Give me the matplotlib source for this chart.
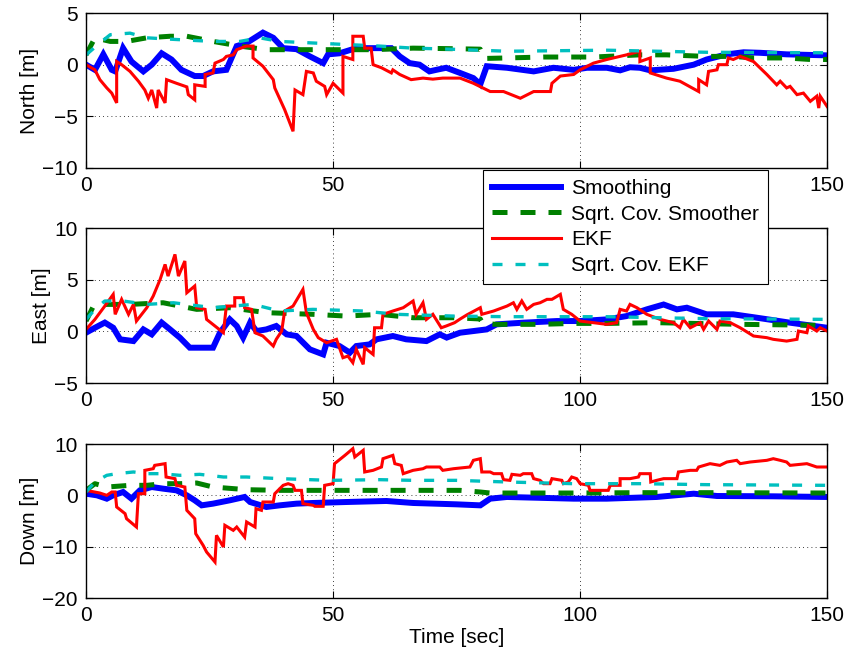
import numpy as np
import matplotlib
matplotlib.use("Agg")
import matplotlib.pyplot as plt

plt.rcParams.update({
    "font.family": ["Liberation Sans", "DejaVu Sans"],
    "font.size": 15,
    "axes.linewidth": 1.0,
    "xtick.direction": "in", "ytick.direction": "in",
    "xtick.top": True, "ytick.right": True,
})

labels = ["Smoothing", "Sqrt. Cov. Smoother", "EKF", "Sqrt. Cov. EKF"]
ylabels = ["North [m]", "East [m]", "Down [m]"]
ylims = [(-10, 5), (-5, 10), (-20, 10)]
yticks = [[-10, -5, 0, 5], [-5, 0, 5, 10], [-20, -10, 0, 10]]
xticks = [0, 50, 100, 150]

# (time [s], error [m])
north_smooth = [(0, 0), (1.8, -0.5), (3.5, 1.0), (5.2, -0.5), (5.9, -0.65), (7.5, 1.6), (9.2, 0.3),
    (11.6, -0.65), (13.3, 0), (15.3, 1.1), (17.3, 0.5), (19.3, -0.5), (22.0, -1.1), (23.7, -1.1),
    (25.7, -0.65), (28.4, -0.5), (30.5, 1.8), (32.5, 2.1), (35.8, 3.1), (37.9, 2.6), (39.9, 1.6),
    (42.6, 1.5), (45.3, 0.8), (48.0, 0.15), (49.0, 1.0), (51.3, 1.1), (54.0, 1.5), (56.7, 1.6),
    (61.8, 1.6), (63.5, 0.8), (65.5, 0.15), (67.5, 0), (69.5, -0.65), (70.9, -0.5), (72.9, -0.3),
    (75.7, -0.8), (78.4, -1.3), (79.8, -1.9), (81.1, -0.15), (85.2, -0.3), (90.6, -0.65),
    (94.6, -0.3), (98.7, -0.5), (101.4, -0.3), (105.4, -0.3), (108.1, -0.55), (110.1, -0.25),
    (112.1, -0.3), (114.2, -0.55), (118.9, -0.4), (123.0, 0), (125.6, 0.5), (129.7, 1.0),
    (133.1, 1.2), (136.4, 1.15), (141.8, 1.0), (150.0, 0.9)]
north_sqrt_smooth = [(0, 0.95), (1.8, 2.6), (4.9, 2.25), (8.2, 2.25), (12.3, 2.6), (17.0, 2.75),
    (20.4, 2.75), (25.7, 2.25), (31.1, 1.8), (36.5, 1.45), (41.9, 1.45), (50.0, 1.45), (58.1, 1.45),
    (66.2, 1.6), (73.7, 1.55), (79.8, 1.5), (80.5, 0.6), (85.2, 0.65), (92.6, 0.74), (102.7, 0.74),
    (112.1, 0.95), (117.5, 0.95), (125.6, 0.8), (131.0, 0.8), (135.1, 0.65), (141.8, 0.65),
    (146.6, 0.5), (150.0, 0.5)]
north_ekf = [(0, 0), (1.8, -0.5), (2.8, -1.45), (4.2, -2.25), (5.2, -2.75), (6.2, -3.7), (6.2, 0.3),
    (7.2, 0), (8.9, -0.65), (10.6, -1.6), (11.9, -2.45), (12.6, -3.25), (13.3, -2.45), (14.3, -4.2),
    (14.6, -2.45), (16.0, -3.7), (16.3, -1.45), (18.3, -1.8), (20.4, -2.15), (20.7, -2.9),
    (22.0, -3.4), (22.0, -1.95), (24.1, -2.1), (24.1, -0.95), (25.7, -0.8), (26.1, 0.15),
    (27.8, 0.5), (28.4, 0.8), (29.8, 0.95), (30.5, 1.45), (32.5, 1.8), (33.8, 1.8), (33.8, 0.65),
    (35.8, -0.15), (37.9, -1.45), (38.2, -2.25), (40.2, -4.35), (41.9, -6.45), (42.3, -2.45),
    (43.9, -2.9), (44.6, -0.65), (46.0, -0.8), (46.6, -1.6), (48.3, -2.1), (48.7, -2.9),
    (50.0, -1.8), (52.0, -2.75), (52.0, 0.8), (54.0, 0.5), (54.0, 2.75), (56.1, 2.75), (56.4, 1.6),
    (57.7, 1.6), (58.1, 0), (59.8, -0.3), (61.8, -0.8), (62.1, -0.5), (63.5, -0.95), (65.8, -1.45),
    (68.2, -1.3), (70.2, -1.4), (72.2, -1.3), (75.7, -1.3), (78.4, -1.8), (81.8, -2.6),
    (84.5, -2.6), (87.9, -3.25), (90.6, -2.6), (94.0, -2.6), (94.3, -1.8), (96.0, -1.1),
    (98.7, -0.95), (100.0, -0.5), (102.7, 0.15), (105.4, 0.5), (109.4, 0.95), (112.1, 1.3),
    (112.1, 0.3), (114.2, 0.65), (114.2, -0.8), (117.5, -1.3), (120.2, -1.6), (124.0, -2.6),
    (124.0, -1.45), (125.6, -1.95), (126.0, -0.65), (127.7, -0.5), (128.0, 0), (129.7, 0),
    (130.0, 0.65), (131.0, 0.5), (132.4, 0.8), (135.1, 0.3), (137.8, -0.95), (139.8, -1.95),
    (140.5, -1.6), (141.8, -2.25), (142.5, -2.1), (143.9, -2.9), (145.2, -2.75), (146.6, -3.55),
    (147.9, -3.05), (148.3, -4.2), (148.6, -3.05), (150.0, -4.05)]
north_sqrt_ekf = [(0, 0.95), (2.8, 2.1), (4.9, 2.9), (8.9, 3.05), (12.3, 2.6), (17.7, 2.45),
    (25.7, 2.25), (31.1, 2.25), (35.1, 2.6), (39.2, 2.25), (45.9, 2.1), (52.7, 1.95), (59.4, 1.8),
    (66.2, 1.6), (73.7, 1.5), (85.2, 1.3), (105.4, 1.4), (125.6, 1.2), (150.0, 1.15)]

east_smooth = [(0, -0.13), (1.8, 0.35), (3.8, 0.85), (5.5, 0.35), (6.9, -0.77), (9.6, -0.94),
    (11.6, 0.19), (13.3, -0.29), (15.3, 0.85), (17.0, 0.19), (19.0, -0.61), (21.0, -1.58),
    (25.7, -1.58), (27.1, -0.13), (29.1, 1.16), (30.5, 0.52), (31.8, -0.61), (33.2, 0.84),
    (34.5, 0.03), (36.5, 0.19), (38.5, 0.52), (40.6, -0.29), (42.6, -0.45), (45.3, -1.74),
    (48.0, -2.23), (48.7, -1.10), (51.3, -1.42), (53.4, -2.06), (54.7, -1.42), (57.4, -1.26),
    (58.8, -0.77), (62.1, -0.45), (64.8, -0.77), (68.9, -0.94), (71.6, -0.29), (73.0, -0.6),
    (75.7, -0.13), (78.4, 0.03), (81.1, 0.19), (83.1, 0.68), (88.5, 0.84), (95.3, 1.0),
    (100.0, 1.0), (105.4, 1.16), (109.4, 1.48), (113.5, 2.13), (116.9, 2.6), (119.6, 2.13),
    (121.6, 2.29), (125.6, 1.65), (131.0, 1.65), (135.8, 1.32), (142.5, 0.84), (150.0, 0.35)]
east_sqrt_smooth = [(0, 1.0), (1.5, 2.45), (4.2, 2.61), (8.9, 2.61), (15.6, 2.77), (22.4, 2.13),
    (29.1, 2.29), (36.5, 1.81), (45.9, 1.65), (52.7, 1.48), (59.4, 1.65), (66.2, 1.32),
    (74.4, 1.32), (79.8, 1.2), (80.3, 0.75), (83.1, 0.68), (91.9, 0.68), (98.7, 0.77),
    (105.4, 0.77), (115.5, 0.84), (132.4, 0.68), (150.0, 0.58)]
east_ekf = [(0, 0.19), (1.8, 1.16), (3.8, 2.45), (5.5, 3.58), (5.9, 1.65), (7.2, 3.10), (8.6, 1.65),
    (9.6, 2.61), (10.2, 1.0), (12.3, 2.29), (13.6, 3.42), (15.0, 5.03), (16.0, 6.48), (16.6, 5.35),
    (18.0, 7.45), (18.7, 5.35), (20.0, 6.81), (20.4, 3.74), (22.0, 4.39), (22.4, 2.29),
    (24.1, 2.13), (24.4, 1.16), (27.8, -0.13), (28.4, 2.45), (30.1, 2.45), (30.1, 3.26),
    (31.8, 3.26), (32.1, 2.29), (33.5, 2.13), (34.2, -0.13), (35.8, -0.45), (37.9, -1.42),
    (38.5, -0.77), (39.6, 0.03), (40.2, 1.97), (41.9, 2.45), (43.9, 4.06), (44.6, 1.81),
    (46.0, 0.19), (47.0, -0.61), (48.7, -1.10), (50.7, -0.77), (52.0, -2.55), (53.0, -2.39),
    (54.0, -3.03), (54.7, -1.74), (56.1, -3.19), (56.4, -1.58), (58.1, -2.23), (58.4, 0.35),
    (59.8, 0.35), (60.1, 1.65), (62.1, 1.97), (64.2, 2.29), (66.2, 2.94), (66.8, 1.65),
    (68.2, 2.77), (68.9, 1.16), (70.2, 1.65), (71.9, 0.35), (72.9, 0.52), (74.6, 0.84),
    (75.6, 1.16), (77.1, 1.6), (79.8, 2.29), (80.1, 1.65), (82.5, 1.97), (85.2, 2.45),
    (86.5, 2.77), (87.2, 2.13), (88.2, 2.94), (89.2, 2.13), (90.6, 2.61), (91.9, 2.77),
    (93.3, 3.10), (94.3, 3.10), (96.0, 3.58), (96.6, 2.13), (98.3, 1.65), (100.0, 1.0),
    (102.7, 0.84), (105.4, 0.68), (107.4, 0.84), (108.1, 2.13), (109.4, 1.97), (110.1, 2.61),
    (111.5, 2.29), (113.5, 1.65), (116.2, 1.16), (118.9, 0.84), (120.2, 0.35), (120.9, 1.16),
    (122.3, 0.35), (124.3, 0.84), (125.0, 0.19), (126.0, 1.0), (127.7, 0.19), (128.3, 1.0),
    (130.4, 0.84), (132.4, 0.35), (135.1, -0.45), (137.8, -0.61), (139.1, -0.77), (141.8, -0.94),
    (143.9, -0.77), (144.2, 0.03), (145.9, -0.13), (146.2, 0.52), (147.9, 0.03), (148.6, 0.35),
    (150.0, 0.03)]
east_sqrt_ekf = [(0, 1.16), (1.8, 2.13), (3.8, 2.94), (7.5, 2.94), (12.3, 2.61), (17.7, 2.77),
    (25.7, 2.29), (33.8, 2.61), (39.2, 1.97), (45.9, 2.13), (56.1, 1.97), (62.8, 1.65),
    (74.4, 1.48), (85.2, 1.42), (105.4, 1.42), (125.6, 1.23), (150.0, 1.16)]

down_smooth = [(0, 0.32), (2.2, 0), (4.2, -0.65), (5.5, 0), (7.5, 0.65), (9.2, -0.65), (10.9, 0.97),
    (13.3, 1.62), (15.6, 1.30), (18.3, 0.97), (20.4, 0), (22.0, -0.97), (23.4, -1.95), (25.7, -1.62),
    (29.1, -0.97), (32.1, -0.32), (33.2, -1.30), (36.5, -2.27), (39.2, -1.95), (42.6, -1.62),
    (45.9, -1.49), (52.7, -1.30), (60.8, -1.10), (66.2, -1.49), (74.9, -1.75), (79.8, -1.95),
    (81.8, -0.65), (85.2, -0.32), (98.7, -0.65), (105.4, -0.65), (115.5, -0.32), (123.0, 0.32),
    (127.7, -0.13), (139.1, -0.19), (150.0, -0.32)]
down_sqrt_smooth = [(0, 0.97), (1.8, 2.27), (4.2, 1.62), (8.9, 1.95), (12.3, 1.95), (15.6, 2.27),
    (19.0, 2.27), (22.4, 2.40), (25.7, 1.62), (32.5, 1.10), (39.2, 0.97), (50.0, 0.97),
    (75.7, 0.97), (79.8, 0.65), (81.8, 0.45), (98.7, 0.45), (112.1, 0.52), (125.6, 0.52),
    (150.0, 0.45)]
down_ekf = [(0, 0.97), (2.8, 0.45), (4.2, 0), (5.2, 0.65), (5.9, 0.65), (6.2, -2.27), (7.9, -3.57),
    (8.2, -4.55), (10.2, -6.17), (10.6, 0.32), (11.9, 0.32), (11.9, 4.87), (13.6, 5.19),
    (13.9, 5.84), (16.0, 6.17), (16.2, 3.57), (18.0, 3.25), (18.3, 1.95), (20.0, 1.62),
    (20.4, -2.92), (22.0, -4.55), (22.2, -7.47), (23.7, -9.74), (24.4, -11.04), (26.1, -12.99),
    (26.4, -7.79), (27.8, -10.06), (28.1, -5.84), (29.8, -6.82), (30.5, -6.17), (32.1, -8.12),
    (32.5, -5.19), (34.2, -6.17), (34.4, -2.60), (35.5, -2.92), (35.8, -1.30), (37.9, -1.30),
    (38.2, 0.32), (39.9, 1.95), (40.9, 2.27), (41.9, 1.95), (42.3, 0.97), (43.6, 0.97),
    (43.9, -1.62), (46.0, -1.95), (46.3, -2.14), (48.0, -2.14), (48.3, 1.95), (50.0, 2.27),
    (50.3, 6.17), (52.4, 7.79), (54.0, 9.09), (54.4, 7.47), (56.1, 8.77), (56.4, 4.55),
    (58.1, 4.87), (59.8, 5.52), (60.1, 7.14), (62.1, 7.79), (62.5, 6.17), (63.8, 5.84),
    (64.2, 4.22), (66.2, 4.87), (68.2, 5.19), (68.9, 5.52), (71.6, 5.52), (72.2, 4.87),
    (74.4, 5.19), (77.7, 5.52), (78.4, 6.82), (79.8, 7.14), (80.1, 4.55), (81.8, 4.55),
    (82.5, 4.22), (84.1, 4.22), (84.5, 3.05), (85.8, 2.92), (86.2, 4.09), (87.9, 3.90),
    (88.5, 4.22), (90.2, 4.22), (90.6, 3.25), (91.9, 2.92), (92.6, 2.27), (93.9, 2.27),
    (94.3, 3.25), (96.3, 2.92), (96.6, 2.27), (97.6, 2.60), (98.3, 3.57), (99.3, 3.25),
    (100.0, 2.27), (101.7, 1.95), (102.0, 0.97), (105.7, 0.97), (106.1, 1.95), (108.1, 1.95),
    (108.1, 3.25), (110.1, 3.25), (111.8, 3.57), (112.1, 4.22), (114.2, 4.22), (114.3, 2.60),
    (115.5, 2.92), (116.9, 3.25), (119.6, 3.25), (119.9, 4.55), (122.3, 4.87), (123.6, 4.87),
    (124.0, 5.52), (126.3, 6.17), (128.3, 5.84), (129.7, 6.49), (131.7, 6.82), (132.4, 6.17),
    (134.4, 6.49), (137.8, 6.82), (139.1, 7.14), (140.5, 6.82), (141.8, 6.49), (142.5, 5.84),
    (145.9, 6.17), (147.9, 5.52), (150.0, 5.52)]
down_sqrt_ekf = [(0, 0.65), (1.8, 2.60), (4.2, 3.90), (6.2, 4.22), (9.6, 4.55), (12.3, 4.22),
    (15.0, 4.22), (19.0, 3.90), (23.0, 4.09), (27.8, 3.57), (32.5, 3.57), (39.2, 3.25),
    (49.3, 2.92), (59.4, 3.05), (66.2, 2.92), (74.9, 2.92), (85.2, 2.60), (98.7, 2.27),
    (112.1, 2.27), (125.6, 2.08), (150.0, 1.95)]

panels = [
    [north_smooth, north_sqrt_smooth, north_ekf, north_sqrt_ekf],
    [east_smooth, east_sqrt_smooth, east_ekf, east_sqrt_ekf],
    [down_smooth, down_sqrt_smooth, down_ekf, down_sqrt_ekf],
]

styles = [
    dict(color="#0000ff", lw=4.3),
    dict(color="#008000", lw=3.6, dashes=(3.0, 2.6)),
    dict(color="#ff0000", lw=2.2),
    dict(color="#00bfbf", lw=2.4, dashes=(3.0, 3.9)),
]

fig = plt.figure(figsize=(8.46, 6.57), dpi=100)
rects = [(0.1017, 0.7443, 0.876, 0.2359),
         (0.1017, 0.4170, 0.876, 0.2359),
         (0.1017, 0.0898, 0.876, 0.2344)]

handles = []
for i, (rect, series) in enumerate(zip(rects, panels)):
    ax = fig.add_axes(rect)
    for j, (pts, st) in enumerate(zip(series, styles)):
        t, v = np.array(pts).T
        ln, = ax.plot(t, v, solid_joinstyle="miter", **st)
        if i == 0:
            handles.append(ln)
    ax.set_xlim(0, 150)
    ax.set_ylim(*ylims[i])
    ax.set_xticks(xticks)
    if i == 0:
        # the "100" label of the top panel sits under the legend box
        ax.set_xticklabels(["0", "50", "", "150"])
    ax.set_yticks(yticks[i])
    ax.grid(True, color="black", linestyle=(0, (1, 4)), linewidth=0.6)
    ax.tick_params(length=5, width=0.8, pad=6)
    ax.set_ylabel(ylabels[i], labelpad=2)
    if i == 2:
        ax.set_xlabel("Time [sec]", labelpad=2)

leg = fig.legend(handles, labels, loc="upper left", bbox_to_anchor=(0.571, 0.741),
                 frameon=True, fancybox=False, edgecolor="black", framealpha=1,
                 handlelength=3.3, handletextpad=0.5, borderpad=0.42, labelspacing=0.32,
                 fontsize=15, borderaxespad=0)
leg.get_frame().set_linewidth(0.8)

fig.savefig("out.png", dpi=100)
